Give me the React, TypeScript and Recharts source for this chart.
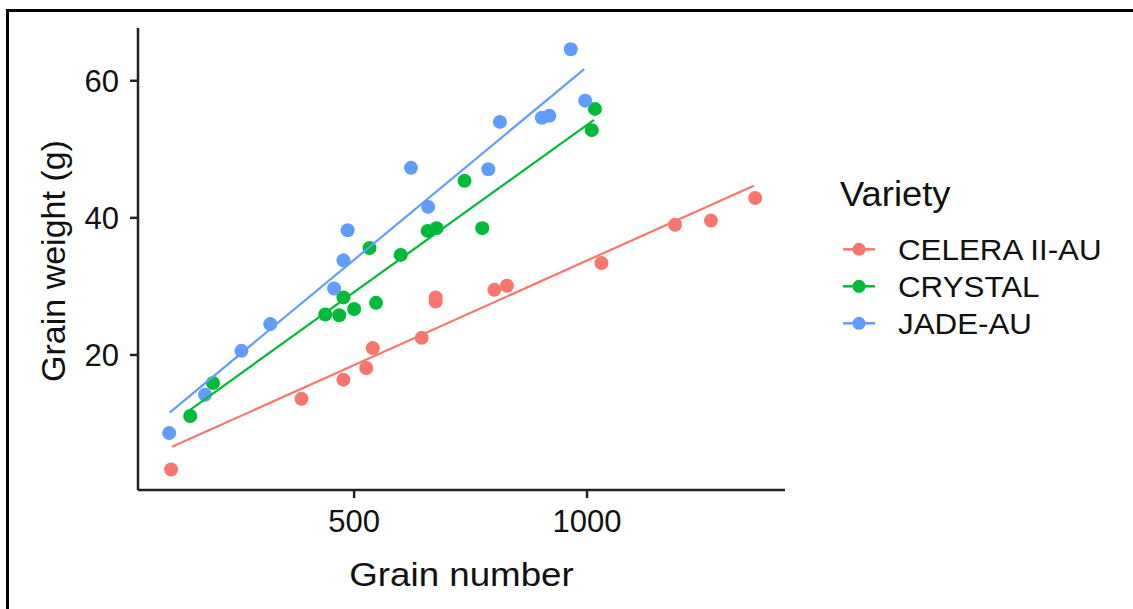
import React from 'react';
import { ScatterChart, Scatter, XAxis, YAxis, Label } from 'recharts';

const varieties = ['CELERA II-AU', 'CRYSTAL', 'JADE-AU'];
const colors = ['#F8766D', '#00BA38', '#619CFF'];

const xTicks = [500, 1000];
const yTicks = [20, 40, 60];

const celeraGrainNumber = [107, 387, 477, 526, 540, 645, 675, 675, 801, 828, 1031, 1189, 1266, 1361];
const celeraGrainWeight = [3.3, 13.6, 16.4, 18.1, 21.0, 22.5, 28.4, 27.8, 29.5, 30.1, 33.4, 39.0, 39.6, 42.9];

const crystalGrainNumber = [148, 197, 438, 468, 477, 500, 547, 533, 600, 658, 677, 737, 775, 1010, 1017];
const crystalGrainWeight = [11.1, 15.9, 25.9, 25.8, 28.4, 26.7, 27.6, 35.6, 34.6, 38.1, 38.5, 45.4, 38.5, 52.8, 55.9];

const jadeGrainNumber = [103, 180, 258, 320, 457, 477, 486, 622, 659, 788, 813, 903, 919, 965, 996];
const jadeGrainWeight = [8.6, 14.2, 20.6, 24.5, 29.7, 33.8, 38.2, 47.3, 41.6, 47.1, 54.0, 54.6, 54.9, 64.6, 57.1];

// fitted regression line end points
const celeraFitX = [109, 1358];
const celeraFitY = [6.6, 44.7];
const crystalFitX = [148, 1015];
const crystalFitY = [12.0, 54.3];
const jadeFitX = [104, 994];
const jadeFitY = [11.6, 61.7];

const toPts = (xs: number[], ys: number[]) => xs.map((x, i) => ({ x, y: ys[i] }));

const pointSets = [
  toPts(celeraGrainNumber, celeraGrainWeight),
  toPts(crystalGrainNumber, crystalGrainWeight),
  toPts(jadeGrainNumber, jadeGrainWeight),
];
const fitSets = [
  toPts(celeraFitX, celeraFitY),
  toPts(crystalFitX, crystalFitY),
  toPts(jadeFitX, jadeFitY),
];

const FONT = '"Liberation Sans", Arial, Helvetica, sans-serif';
const AXIS = '#222';
const TEXT = '#111';

export default function App() {
  return (
    <div style={{ position: 'absolute', left: 0, top: 0, width: 1133, height: 609, overflow: 'hidden', background: '#fff', fontFamily: FONT }}>
      <div style={{ position: 'absolute', left: 6, top: 9, width: 1200, height: 700, borderTop: '3px solid #000', borderLeft: '3px solid #000' }} />
      <div style={{ position: 'absolute', left: 0, top: 0 }}>
        <ScatterChart width={1133} height={609} margin={{ top: 28, right: 348, bottom: 59, left: 78 }}>
          <XAxis
            type="number"
            dataKey="x"
            domain={[36, 1425]}
            allowDataOverflow
            ticks={xTicks}
            height={60}
            tickSize={8}
            tickMargin={12}
            axisLine={{ stroke: AXIS, strokeWidth: 2.5 }}
            tickLine={{ stroke: AXIS, strokeWidth: 2.5 }}
            tick={{ fill: TEXT, fontSize: 31, fontFamily: FONT }}
          >
            <Label
              content={(props: any) => {
                const vb = props && props.viewBox ? props.viewBox : { x: 138, y: 490, width: 647, height: 60 };
                const cx = vb.x + vb.width / 2;
                const cy = vb.y + 96;
                return (
                  <text transform={`translate(${cx} ${cy}) scale(1.08 1)`} textAnchor="middle" fontSize={34} fill={TEXT} fontFamily={FONT}>
                    Grain number
                  </text>
                );
              }}
            />
          </XAxis>
          <YAxis
            type="number"
            dataKey="y"
            domain={[0.3, 67.7]}
            allowDataOverflow
            ticks={yTicks}
            width={60}
            tickSize={8}
            tickMargin={11}
            axisLine={{ stroke: AXIS, strokeWidth: 2.5 }}
            tickLine={{ stroke: AXIS, strokeWidth: 2.5 }}
            tick={{ fill: TEXT, fontSize: 31, fontFamily: FONT }}
          >
            <Label
              content={(props: any) => {
                const vb = props && props.viewBox ? props.viewBox : { x: 78, y: 28, width: 60, height: 462 };
                const cx = vb.x + vb.width - 73;
                const cy = vb.y + vb.height / 2 + 2;
                return (
                  <text x={cx} y={cy} transform={`rotate(-90 ${cx} ${cy})`} textAnchor="middle" fontSize={34} fill={TEXT} fontFamily={FONT}>
                    Grain weight (g)
                  </text>
                );
              }}
            />
          </YAxis>
          {pointSets.map((pts, i) => (
            <Scatter
              key={'p' + i}
              name={varieties[i]}
              data={pts}
              isAnimationActive={false}
              shape={(p: any) => <circle cx={p.cx} cy={p.cy} r={7} fill={colors[i]} />}
            />
          ))}
          {fitSets.map((pts, i) => (
            <Scatter
              key={'f' + i}
              data={pts}
              isAnimationActive={false}
              line={{ stroke: colors[i], strokeWidth: 2.2 }}
              shape={() => <g />}
              legendType="none"
            />
          ))}
        </ScatterChart>
      </div>
      <svg width={1133} height={609} style={{ position: 'absolute', left: 0, top: 0, pointerEvents: 'none' }}>
        <text transform="translate(840 206) scale(1.04 1)" fontSize={35} fill={TEXT} fontFamily={FONT}>Variety</text>
        {varieties.map((v, i) => {
          const cy = 249.3 + i * 37;
          return (
            <g key={v}>
              <line x1={843} x2={875} y1={cy} y2={cy} stroke={colors[i]} strokeWidth={2.5} />
              <circle cx={859} cy={cy} r={6.5} fill={colors[i]} />
              <text transform={`translate(898 ${cy + 11}) scale(1.08 1)`} fontSize={29} fill={TEXT} fontFamily={FONT}>{v}</text>
            </g>
          );
        })}
      </svg>
    </div>
  );
}
